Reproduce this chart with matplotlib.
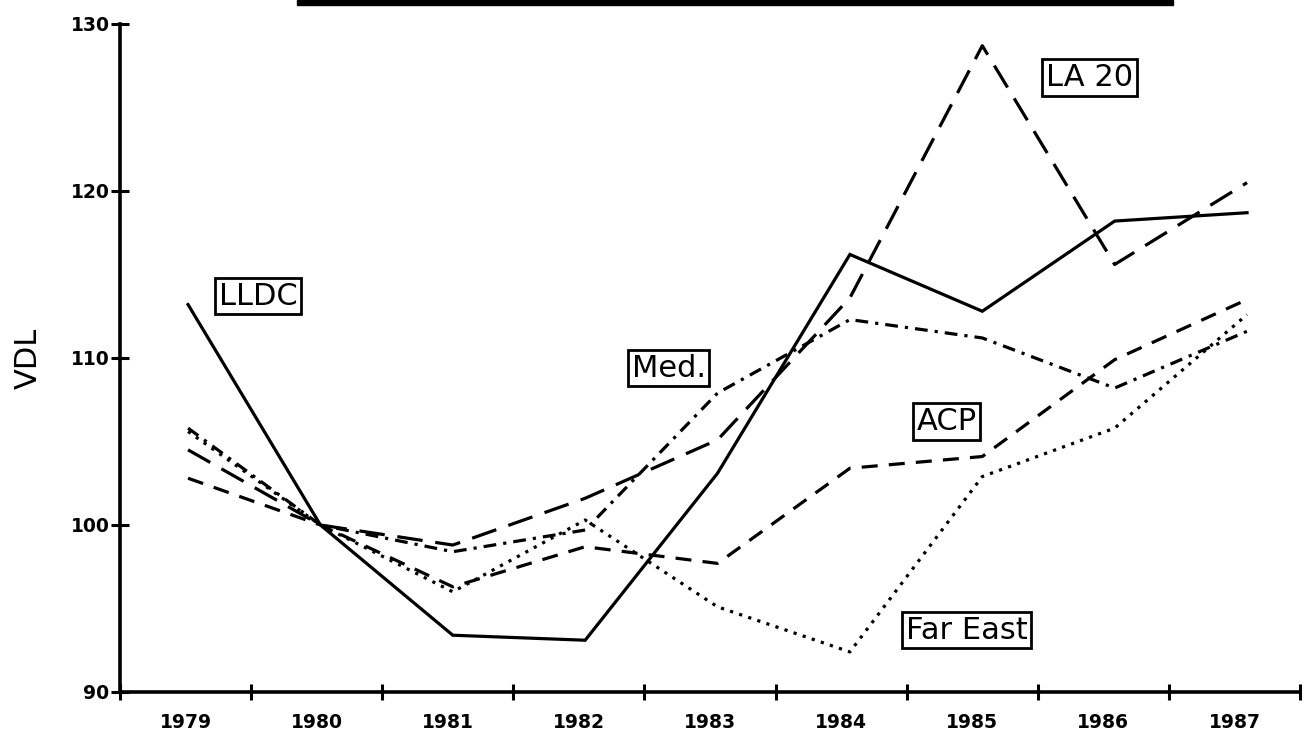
import numpy as np
import matplotlib.pyplot as plt
from matplotlib.patches import Rectangle

# values (index, 1980 = 100)
years = ['1979', '1980', '1981', '1982', '1983', '1984', '1985', '1986', '1987']
lldc = [113.2, 100, 93.4, 93.1, 103.1, 116.2, 112.8, 118.2, 118.7]
la20 = [104.5, 100, 98.8, 101.6, 105.1, 113.6, 128.7, 115.6, 120.5]
med = [105.8, 100, 98.4, 99.7, 107.9, 112.3, 111.2, 108.2, 111.6]
acp = [102.8, 100, 96.3, 98.7, 97.7, 103.4, 104.1, 109.9, 113.5]
far_east = [105.6, 100, 96.0, 100.3, 95.1, 92.4, 102.9, 105.8, 112.6]

x = np.arange(len(years))

fig = plt.figure(figsize=(13.14, 7.33), dpi=100)
ax = fig.add_axes([120/1314, 41/733, 1180/1314, 668/733])

lw = 2.3
ax.plot(x, lldc, color='black', lw=lw, solid_joinstyle='miter')
ax.plot(x, la20, color='black', lw=lw, dashes=(8, 4))
ax.plot(x, med, color='black', lw=lw, dashes=(4, 2.2, 1, 2.2))
ax.plot(x, acp, color='black', lw=lw, dashes=(5, 3.5))
ax.plot(x, far_east, color='black', lw=lw, dashes=(1, 2))

# boxed series labels
box = dict(boxstyle='square,pad=0.12', fc='white', ec='black', lw=2)
lab_font = dict(fontsize=22, ha='center', va='center', bbox=box)
ax.text(0.53, 113.7, 'LLDC', **lab_font)
ax.text(3.63, 109.4, 'Med.', **lab_font)
ax.text(5.73, 106.2, 'ACP', **lab_font)
ax.text(6.81, 126.8, 'LA 20', **lab_font)
ax.text(5.88, 93.7, 'Far East', **lab_font)

xmin, xmax = -0.514, 8.40
ax.set_xlim(xmin, xmax)
ax.set_ylim(90, 130)

edges = np.linspace(xmin, xmax, len(years) + 1)
ax.set_xticks(edges)
ax.set_xticklabels([])
ax.set_xticks((edges[:-1] + edges[1:]) / 2, minor=True)
ax.set_xticklabels(years, minor=True, fontsize=13.5, fontweight='bold')
ax.tick_params(axis='x', which='major', direction='inout', length=12, width=2.2)
ax.tick_params(axis='x', which='minor', length=0, pad=15)

ax.set_yticks([90, 100, 110, 120, 130])
ax.set_yticklabels(['90', '100', '110', '120', '130'], fontsize=13.5, fontweight='bold')
ax.tick_params(axis='y', direction='inout', length=13, width=2.2, pad=1)

for s in ['top', 'right']:
    ax.spines[s].set_visible(False)
for s in ['left', 'bottom']:
    ax.spines[s].set_linewidth(2.6)

ax.set_ylabel('VDL', fontsize=22, labelpad=20)

# black bar cut off at the top of the page
fig.patches.append(Rectangle((297/1314, 1 - 5/733), 876/1314, 5/733,
                             transform=fig.transFigure, color='black'))

plt.savefig('out.png', dpi=100)
